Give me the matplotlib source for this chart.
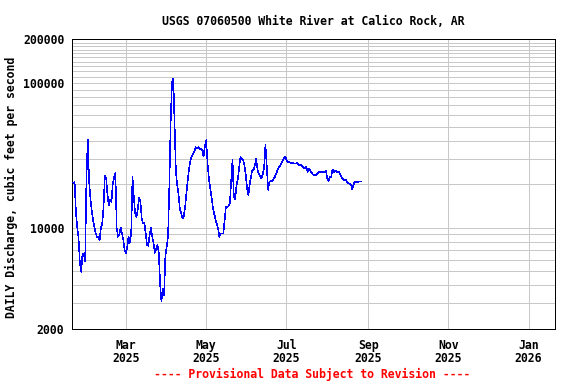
import matplotlib
matplotlib.use("Agg")
import matplotlib.pyplot as plt
import pandas as pd

# ---- data (daily mean discharge, cfs) ----
start_date = "2025-01-20"
jan = [20400, 20700, 12900, 10060, 8500, 5680, 4970, 6660, 6660, 5830, 22000, 40700]
feb = [21000, 16000, 13200, 11300, 10160, 9150, 8670, 8670, 8140, 10060, 10700, 14000,
       22800, 21900, 16800, 14300, 15500, 15100, 20000, 22300, 23900, 9950, 8670, 9040,
       10060, 9150, 8230, 7000]
mar = [6660, 7400, 8670, 7880, 9150, 22500, 16400, 12600, 11900, 13400, 16200, 15100,
       11600, 10700, 10800, 9150, 7600, 7500, 8900, 10060, 8670, 7800, 6720, 7100, 7600,
       6660, 4030, 3090, 3820, 3430, 6480]
apr = [7400, 8700, 19700, 54000, 101000, 107000, 50000, 24000, 19700, 17000, 13500,
       12600, 11600, 12000, 14000, 17500, 21500, 25500, 29000, 31000, 32500, 33500,
       36000, 35500, 36000, 35000, 35000, 34000, 31000, 36700]
may = [40200, 28000, 22000, 19000, 16400, 14000, 12600, 11500, 10700, 9900, 8670, 9150,
       9100, 9100, 11300, 14000, 13800, 14200, 14700, 21300, 29300, 16400, 15700, 19500,
       21500, 26000, 30800, 30000, 29500, 27000, 23500]
jun = [19000, 16800, 19700, 22500, 25000, 25000, 27000, 30000, 25000, 23600, 22800,
       21900, 23400, 26000, 37500, 27000, 18300, 20700, 21000, 21000, 21500, 22300,
       23500, 24800, 25800, 26700, 27800, 29000, 30200, 31000]
jul = [29500, 28500, 28300, 28200, 28000, 28000, 27800, 27800, 28000, 27500, 27000,
       27200, 26500, 26000, 25700, 26300, 24300, 25500, 25000, 24000, 23400, 23100,
       23100, 23300, 24000, 24300, 24200, 24000, 24500, 24000, 24600]
aug = [22000, 21000, 22500, 22500, 25300, 24300, 24700, 24500, 24200, 24400, 23000,
       22200, 21600, 21300, 21500, 20700, 20200, 20200, 19800, 18500, 20000, 20700,
       20600, 20700, 20800, 20900, 20900]

tick_dates = ["2025-03-01", "2025-05-01", "2025-07-01", "2025-09-01", "2025-11-01", "2026-01-01"]
tick_labels = ["Mar\n2025", "May\n2025", "Jul\n2025", "Sep\n2025", "Nov\n2025", "Jan\n2026"]
y_ticks = [2000, 10000, 100000, 200000]
y_tick_labels = ["2000", "10000", "100000", "200000"]
y_grid = [3000, 4000, 5000, 6000, 7000, 8000, 9000,
          20000, 30000, 40000, 50000, 60000, 70000, 80000, 90000,
          110000, 120000, 130000, 140000, 150000, 160000, 170000, 180000, 190000]
x_range = ["2025-01-19 06:00", "2026-01-20 16:00"]

title = "USGS 07060500 White River at Calico Rock, AR"
ylabel = "DAILY Discharge, cubic feet per second"
footer = "---- Provisional Data Subject to Revision ----"

# ---- figure ----
plt.rcParams["font.family"] = ["DejaVu Sans Mono"]
plt.rcParams["font.weight"] = "bold"
FS = 8.3

flow = jan + feb + mar + apr + may + jun + jul + aug
dates = pd.date_range(start_date, periods=len(flow), freq="D")

W, H = 576, 384
fig = plt.figure(figsize=(W / 100, H / 100), dpi=100)
ax = fig.add_axes([72.3 / W, 1 - 329 / H, (554.5 - 72.3) / W, (329 - 39.3) / H])

ax.plot(dates, flow, color="#0000FF", lw=0.4, zorder=3, antialiased=False)

ax.set_yscale("log")
ax.set_ylim(2000, 200000)
ax.set_xlim(pd.Timestamp(x_range[0]), pd.Timestamp(x_range[1]))

ax.set_yticks(y_ticks)
ax.set_yticklabels(y_tick_labels)
ax.set_yticks(y_grid, minor=True)
ax.yaxis.set_minor_formatter(matplotlib.ticker.NullFormatter())
ax.set_xticks(pd.to_datetime(tick_dates))
ax.set_xticklabels(tick_labels, linespacing=1.05)
ax.set_xticks([], minor=True)

ax.tick_params(axis="both", which="both", length=0, labelsize=FS)
ax.tick_params(axis="y", pad=5.8)
ax.tick_params(axis="x", pad=7.0)
for lab in ax.get_xticklabels() + ax.get_yticklabels():
    lab.set_fontweight("bold")

ax.set_axisbelow(True)
ax.grid(True, which="both", axis="both", color="#C8C8C8", lw=0.5, antialiased=False)
for s in ax.spines.values():
    s.set_color("black")
    s.set_linewidth(0.5)
    s.set_antialiased(False)

fig.text(313 / W, 1 - 24.7 / H, title, ha="center", va="baseline",
         fontsize=FS, fontweight="bold", color="black")
fig.text(11.5 / W, 1 - 187 / H, ylabel, ha="center", va="center", rotation=90,
         fontsize=FS, fontweight="bold", color="black")
fig.text(312.5 / W, 1 - 378.3 / H, footer, ha="center", va="baseline",
         fontsize=FS, fontweight="bold", color="#FF0000")

fig.savefig("out.png", dpi=100)
